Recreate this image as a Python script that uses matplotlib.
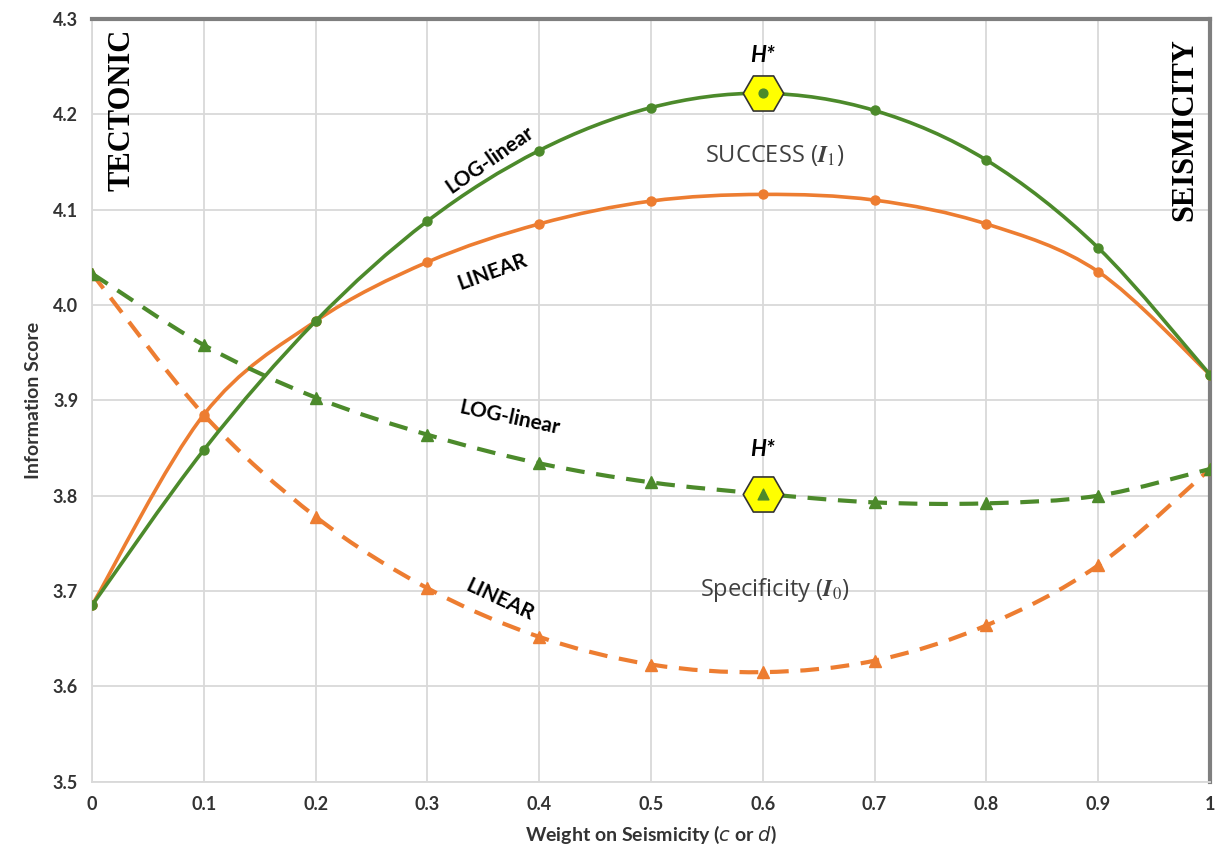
import matplotlib
matplotlib.use("Agg")
import matplotlib.pyplot as plt
from matplotlib.path import Path
from matplotlib.patches import PathPatch

# weight on seismicity
weights = [0.0, 0.1, 0.2, 0.3, 0.4, 0.5, 0.6, 0.7, 0.8, 0.9, 1.0]

# success (I1)
success_log = [3.685, 3.848, 3.983, 4.088, 4.162, 4.207, 4.222, 4.204, 4.152, 4.060, 3.927]
success_lin = [3.685, 3.885, 3.983, 4.045, 4.085, 4.109, 4.116, 4.110, 4.085, 4.035, 3.927]

# specificity (I0)
spec_log = [4.033, 3.958, 3.903, 3.864, 3.834, 3.814, 3.802, 3.793, 3.792, 3.800, 3.828]
spec_lin = [4.033, 3.885, 3.778, 3.703, 3.652, 3.623, 3.615, 3.627, 3.664, 3.727, 3.828]

# optimum points H*
h_x = [0.6, 0.6]
h_y = [4.222, 3.802]

xticks = [0, 0.1, 0.2, 0.3, 0.4, 0.5, 0.6, 0.7, 0.8, 0.9, 1]
xticklabels = ["0", "0.1", "0.2", "0.3", "0.4", "0.5", "0.6", "0.7", "0.8", "0.9", "1"]
yticks = [3.5, 3.6, 3.7, 3.8, 3.9, 4.0, 4.1, 4.2, 4.3]

green = "#4c8a2b"
orange = "#ed7d31"

plt.rcParams['font.family'] = ['Lato', 'DejaVu Sans']


def smooth_line(ax, xs, ys, **kw):
    # excel-style smoothed line: bezier through the points
    pts = list(zip(xs, ys))
    n = len(pts)
    verts = [pts[0]]
    codes = [Path.MOVETO]
    for i in range(n - 1):
        p0 = pts[max(i - 1, 0)]
        p1 = pts[i]
        p2 = pts[i + 1]
        p3 = pts[min(i + 2, n - 1)]
        c1 = (p1[0] + (p2[0] - p0[0]) / 6.0, p1[1] + (p2[1] - p0[1]) / 6.0)
        c2 = (p2[0] - (p3[0] - p1[0]) / 6.0, p2[1] - (p3[1] - p1[1]) / 6.0)
        verts += [c1, c2, p2]
        codes += [Path.CURVE4] * 3
    ax.add_patch(PathPatch(Path(verts, codes), fill=False, capstyle="butt", **kw))


fig = plt.figure(figsize=(12.17, 8.61), dpi=100)
ax = fig.add_axes([0.0756, 0.092, 0.9186, 0.886])

smooth_line(ax, weights, success_log, edgecolor=green, lw=2.6, zorder=4)
smooth_line(ax, weights, success_lin, edgecolor=orange, lw=2.6, zorder=3)
smooth_line(ax, weights, spec_log, edgecolor=green, lw=3, ls=(0, (4.5, 2.8)), zorder=4)
smooth_line(ax, weights, spec_lin, edgecolor=orange, lw=3, ls=(0, (4.5, 2.8)), zorder=3)

ax.plot(weights, success_log, ls="none", color=green, marker="o", ms=6.5, zorder=4)
ax.plot(weights, success_lin, ls="none", color=orange, marker="o", ms=6.5, zorder=3)
ax.plot(weights, spec_log, ls="none", color=green, marker="^", ms=8, zorder=4)
ax.plot(weights, spec_lin, ls="none", color=orange, marker="^", ms=8, zorder=3)

ax.scatter(h_x, h_y, marker="H", s=850, facecolor="#ffff00", edgecolor="#333333", lw=1.2, zorder=5)
ax.scatter(h_x[:1], h_y[:1], marker="o", s=40, color=green, zorder=6)
ax.scatter(h_x[1:], h_y[1:], marker="^", s=60, color=green, zorder=6)

ax.set_xlim(0, 1)
ax.set_ylim(3.5, 4.3)
ax.set_xticks(xticks)
ax.set_xticklabels(xticklabels)
ax.set_yticks(yticks)
ax.set_yticklabels(["%.1f" % v for v in yticks])
ax.tick_params(length=0, labelsize=13, pad=10)
for lab in ax.get_xticklabels() + ax.get_yticklabels():
    lab.set_fontweight("bold")
    lab.set_color("#333333")

ax.grid(True, color="#d9d9d9", lw=1.3)
ax.set_axisbelow(True)
for s in ["left", "bottom"]:
    ax.spines[s].set_color("#d9d9d9")
    ax.spines[s].set_linewidth(1.3)
for s in ["top", "right"]:
    ax.spines[s].set_color("#7f7f7f")
    ax.spines[s].set_linewidth(3)

ax.set_xlabel("Weight on Seismicity ($\\mathit{c}$ or $\\mathit{d}$)", fontsize=14, fontweight="bold",
              color="#333333", labelpad=8)
ax.set_ylabel("Information Score", fontsize=14, fontweight="bold", color="#333333", labelpad=8)

# annotations
ax.text(0.027, 4.205, "TECTONIC", rotation=90, family="Liberation Serif", fontweight="bold",
        fontsize=22, ha="center", va="center")
ax.text(0.978, 4.184, "SEISMICITY", rotation=90, family="Liberation Serif", fontweight="bold",
        fontsize=22, ha="center", va="center")
ax.text(0.356, 4.152, "LOG-linear", rotation=35, fontsize=15, fontweight="bold", ha="center", va="center")
ax.text(0.358, 4.035, "LINEAR", rotation=20, fontsize=15, fontweight="bold", ha="center", va="center")
ax.text(0.374, 3.882, "LOG-linear", rotation=-12, fontsize=15, fontweight="bold", ha="center", va="center")
ax.text(0.365, 3.691, "LINEAR", rotation=-25, fontsize=15, fontweight="bold", ha="center", va="center")
ax.text(0.6, 4.262, "H*", fontsize=16, fontweight="bold", style="italic", ha="center", va="center")
ax.text(0.6, 3.848, "H*", fontsize=16, fontweight="bold", style="italic", ha="center", va="center")
ax.text(0.611, 4.157, "SUCCESS ($\\mathbfit{I}_1$)", fontsize=17, color="#404040", ha="center", va="center",
        family=["Open Sans", "DejaVu Sans"], math_fontfamily="stix")
ax.text(0.611, 3.701, "Specificity ($\\mathbfit{I}_0$)", fontsize=17, color="#404040", ha="center", va="center",
        family=["Open Sans", "DejaVu Sans"], math_fontfamily="stix")

fig.savefig("out.png", dpi=100, facecolor="white")
